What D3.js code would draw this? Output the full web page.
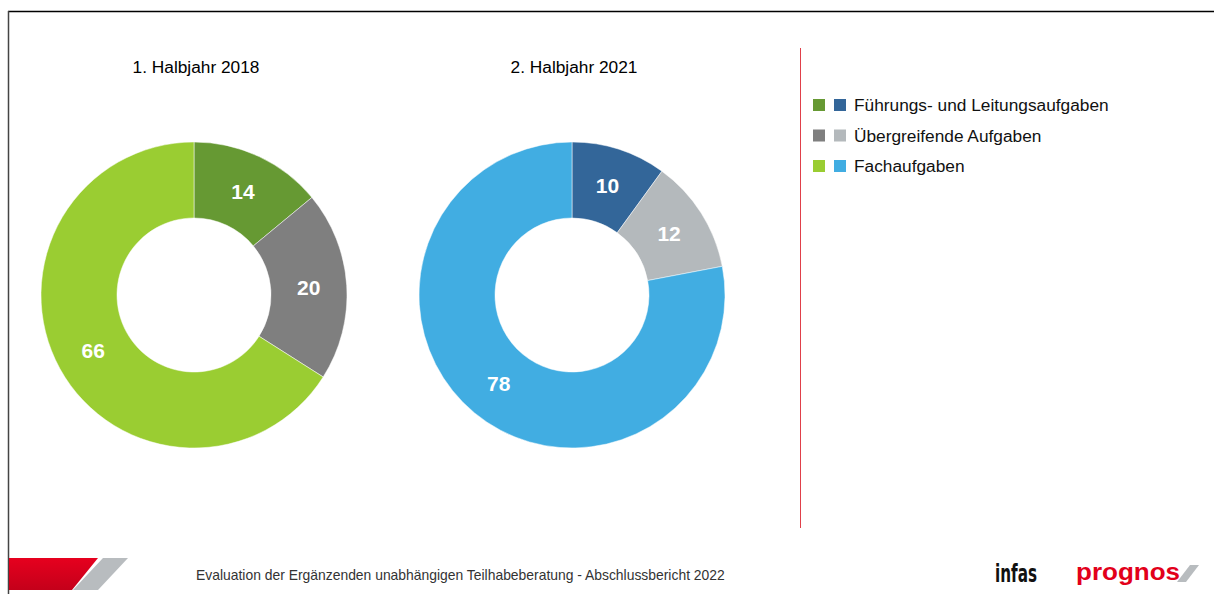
<!DOCTYPE html>
<html><head><meta charset="utf-8">
<script src="https://cdn.jsdelivr.net/npm/d3@7"></script>
<style>body{margin:0;background:#fff}svg{display:block;font-family:"Liberation Sans",Arial,sans-serif}</style>
</head><body>
<svg id="c" width="1214" height="594"></svg>
<script>
const categories = ["Führungs- und Leitungsaufgaben", "Übergreifende Aufgaben", "Fachaufgaben"];
const periods = ["1. Halbjahr 2018", "2. Halbjahr 2021"];
const values2018 = [14, 20, 66];
const values2021 = [10, 12, 78];
const colors2018 = ["#669933", "#7f7f7f", "#9acd32"];
const colors2021 = ["#336699", "#b4b9bc", "#41ade2"];
const footerText = "Evaluation der Ergänzenden unabhängigen Teilhabeberatung - Abschlussbericht 2022";

const svg = d3.select("#c");
// frame
svg.append("line").attr("x1",8).attr("x2",1214).attr("y1",11.5).attr("y2",11.5).attr("stroke","#000").attr("stroke-width",1.5);
svg.append("line").attr("x1",8.5).attr("x2",8.5).attr("y1",11).attr("y2",594).attr("stroke","#444").attr("stroke-width",1.5);
// separator
svg.append("line").attr("x1",800.5).attr("x2",800.5).attr("y1",48).attr("y2",528).attr("stroke","#e0404a").attr("stroke-width",1);

const pie = d3.pie().sort(null).value(d=>d);
const arc = d3.arc().innerRadius(77).outerRadius(153);
const centers = [[194,295],[572,295]];
const datasets = [values2018, values2021];
const colorsets = [colors2018, colors2021];

datasets.forEach((vals,i)=>{
  const g = svg.append("g").attr("transform",`translate(${centers[i][0]},${centers[i][1]})`);
  const arcs = pie(vals);
  g.selectAll("path").data(arcs).join("path").attr("d",arc).attr("fill",(d,j)=>colorsets[i][j]).attr("stroke","#fff").attr("stroke-width",0.5);
  g.selectAll("text").data(arcs).join("text")
    .attr("transform",d=>`translate(${arc.centroid(d)})`)
    .attr("text-anchor","middle").attr("dy","0.36em")
    .attr("fill","#fff").attr("font-weight","bold").attr("font-size",21)
    .text(d=>d.data);
  svg.append("text").attr("x",centers[i][0]+2).attr("y",73).attr("text-anchor","middle")
    .attr("font-size",17.3).attr("fill","#000").text(periods[i]);
});

// legend
const lg = svg.append("g");
categories.forEach((c,j)=>{
  const y = 99 + j*30.5;
  lg.append("rect").attr("x",813).attr("y",y).attr("width",12).attr("height",12).attr("fill",colors2018[j]);
  lg.append("rect").attr("x",834).attr("y",y).attr("width",12).attr("height",12).attr("fill",colors2021[j]);
  lg.append("text").attr("x",854).attr("y",y+12).attr("font-size",17.3).attr("fill","#111").text(c);
});

// footer
const defs = svg.append("defs");
const gr = defs.append("linearGradient").attr("id","rg").attr("x1",0).attr("y1",0).attr("x2",0).attr("y2",1);
gr.append("stop").attr("offset","0").attr("stop-color","#e6001e");
gr.append("stop").attr("offset","1").attr("stop-color","#c4001a");
svg.append("polygon").attr("points","9,558 98,558 72,590 9,590").attr("fill","url(#rg)");
svg.append("polygon").attr("points","103,558 128,558 98,590 73,590").attr("fill","#b8bcbf");
svg.append("text").attr("x",196).attr("y",580).attr("font-size",13.9).attr("fill","#333").text(footerText);

svg.append("text").attr("x",995).attr("y",582).attr("font-size",25).attr("font-weight","bold")
  .attr("font-family","'Liberation Sans Narrow','DejaVu Sans Condensed',sans-serif")
  .attr("textLength",42).attr("lengthAdjust","spacingAndGlyphs").attr("fill","#111").text("infas");
svg.append("text").attr("x",1076).attr("y",580).attr("font-size",24).attr("font-weight","bold")
  .attr("textLength",104).attr("lengthAdjust","spacingAndGlyphs").attr("fill","#e2001a").text("prognos");
svg.append("polygon").attr("points","1190,565 1199,565 1186,582 1177,582").attr("fill","#b8bcbf");
</script>
</body></html>
